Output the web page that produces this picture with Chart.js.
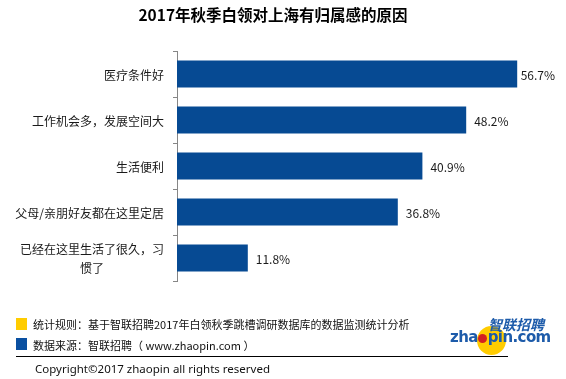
<!DOCTYPE html>
<html>
<head>
<meta charset="utf-8">
<script src="https://cdn.jsdelivr.net/npm/chart.js@4.4.0/dist/chart.umd.min.js"></script>
<style>
  html, body { margin: 0; padding: 0; background: #fff; }
  #wrap { position: relative; width: 566px; height: 379px; overflow: hidden; font-family: "Noto Sans CJK SC", "Noto Sans", sans-serif; }
  canvas { position: absolute; left: 0; top: 0; }
  .abs { position: absolute; white-space: nowrap; }
  #title { left: 0; width: 546px; top: 0; line-height: 28px; text-align: center; font-weight: bold; font-size: 15.5px; color: #000; }
  .sq { position: absolute; width: 11px; height: 12px; }
  .note { font-size: 11px; color: #111; line-height: 16px; }
  #rule { position: absolute; left: 16px; top: 356px; width: 492px; height: 1px; background: #000; }
  #copy { left: 35px; top: 360px; font-size: 11.5px; line-height: 18px; color: #111; font-family: "Noto Sans", sans-serif; }
  #logoCircle { position: absolute; left: 477px; top: 326px; width: 29px; height: 29px; border-radius: 50%; background: #FFCC00; }
  #logoCn { left: 488px; top: 314px; font-size: 14px; line-height: 20px; font-weight: bold; font-style: italic; color: #1D5BAA; }
  #logoEn { left: 450px; top: 328px; font-size: 15px; line-height: 18px; font-weight: bold; color: #1D5BAA; font-family: "DejaVu Sans", sans-serif; letter-spacing: -0.6px; }
  #logoEn .dot { display: inline-block; width: 9px; height: 9px; border-radius: 50%; background: #D42020; margin: 0 0.5px; vertical-align: -0.5px; }
</style>
</head>
<body>
<div id="wrap">
  <canvas id="c" width="566" height="379"></canvas>
  <div id="title" class="abs">2017年秋季白领对上海有归属感的原因</div>
  <div class="sq" style="left:16px;top:318px;background:#FFCC00;"></div>
  <div class="sq" style="left:16px;top:338px;background:#0A50A1;"></div>
  <div class="abs note" style="left:33px;top:316px;">统计规则：基于智联招聘2017年白领秋季跳槽调研数据库的数据监测统计分析</div>
  <div class="abs note" style="left:33px;top:337px;">数据来源：智联招聘（ www.zhaopin.com ）</div>
  <div id="logoCircle"></div>
  <div id="logoCn" class="abs">智联招聘</div>
  <div id="logoEn" class="abs">zha<span class="dot"></span>pin.com</div>
  <div id="rule"></div>
  <div id="copy" class="abs">Copyright©2017 zhaopin all rights reserved</div>
</div>
<script>
const categories = [
  "医疗条件好",
  "工作机会多，发展空间大",
  "生活便利",
  "父母/亲朋好友都在这里定居",
  ["已经在这里生活了很久，习", "惯了"]
];
const values = [56.7, 48.2, 40.9, 36.8, 11.8];
const valueSuffix = "%";

const labelFont = '12px "Noto Sans CJK SC", "Noto Sans", sans-serif';

const labelPlugin = {
  id: 'customLabels',
  afterDatasetsDraw(chart) {
    const ctx = chart.ctx;
    const y = chart.scales.y;
    const meta = chart.getDatasetMeta(0);
    ctx.save();
    ctx.font = labelFont;
    ctx.fillStyle = '#1a1a1a';
    ctx.textBaseline = 'middle';
    categories.forEach((lab, i) => {
      const lines = Array.isArray(lab) ? lab : [lab];
      const cy = y.getPixelForValue(i);
      const maxW = Math.max(...lines.map(l => ctx.measureText(l).width));
      const right = chart.chartArea.left - 13;
      const cx = right - maxW / 2;
      const lh = 19;
      ctx.textAlign = 'center';
      lines.forEach((l, j) => {
        ctx.fillText(l, cx, cy + (j - (lines.length - 1) / 2) * lh + 1);
      });
    });
    ctx.textAlign = 'left';
    meta.data.forEach((bar, i) => {
      const txt = values[i].toFixed(1) + valueSuffix;
      const w = ctx.measureText(txt).width;
      let x = bar.x + 8;
      if (x + w > 555) x = 555 - w;
      ctx.fillText(txt, x, bar.y + 1);
    });
    ctx.restore();
  }
};

new Chart(document.getElementById('c'), {
  type: 'bar',
  data: {
    labels: categories,
    datasets: [{
      data: values,
      backgroundColor: '#064A93',
      borderWidth: 0,
      barPercentage: 0.59,
      categoryPercentage: 1
    }]
  },
  options: {
    indexAxis: 'y',
    responsive: false,
    animation: false,
    devicePixelRatio: 1,
    layout: { padding: { left: 0, top: 51, right: 29, bottom: 98 } },
    plugins: { legend: { display: false }, tooltip: { enabled: false }, title: { display: false } },
    scales: {
      x: { display: false, min: 0, max: 60 },
      y: {
        position: 'left',
        afterFit(scale) { scale.width = 177; },
        grid: { display: true, drawOnChartArea: false, drawTicks: true, tickLength: 4, color: '#868686', offset: true },
        border: { display: true, color: '#868686', width: 1 },
        ticks: { color: 'rgba(0,0,0,0)', font: { size: 12 } }
      }
    }
  },
  plugins: [labelPlugin]
});
</script>
</body>
</html>
